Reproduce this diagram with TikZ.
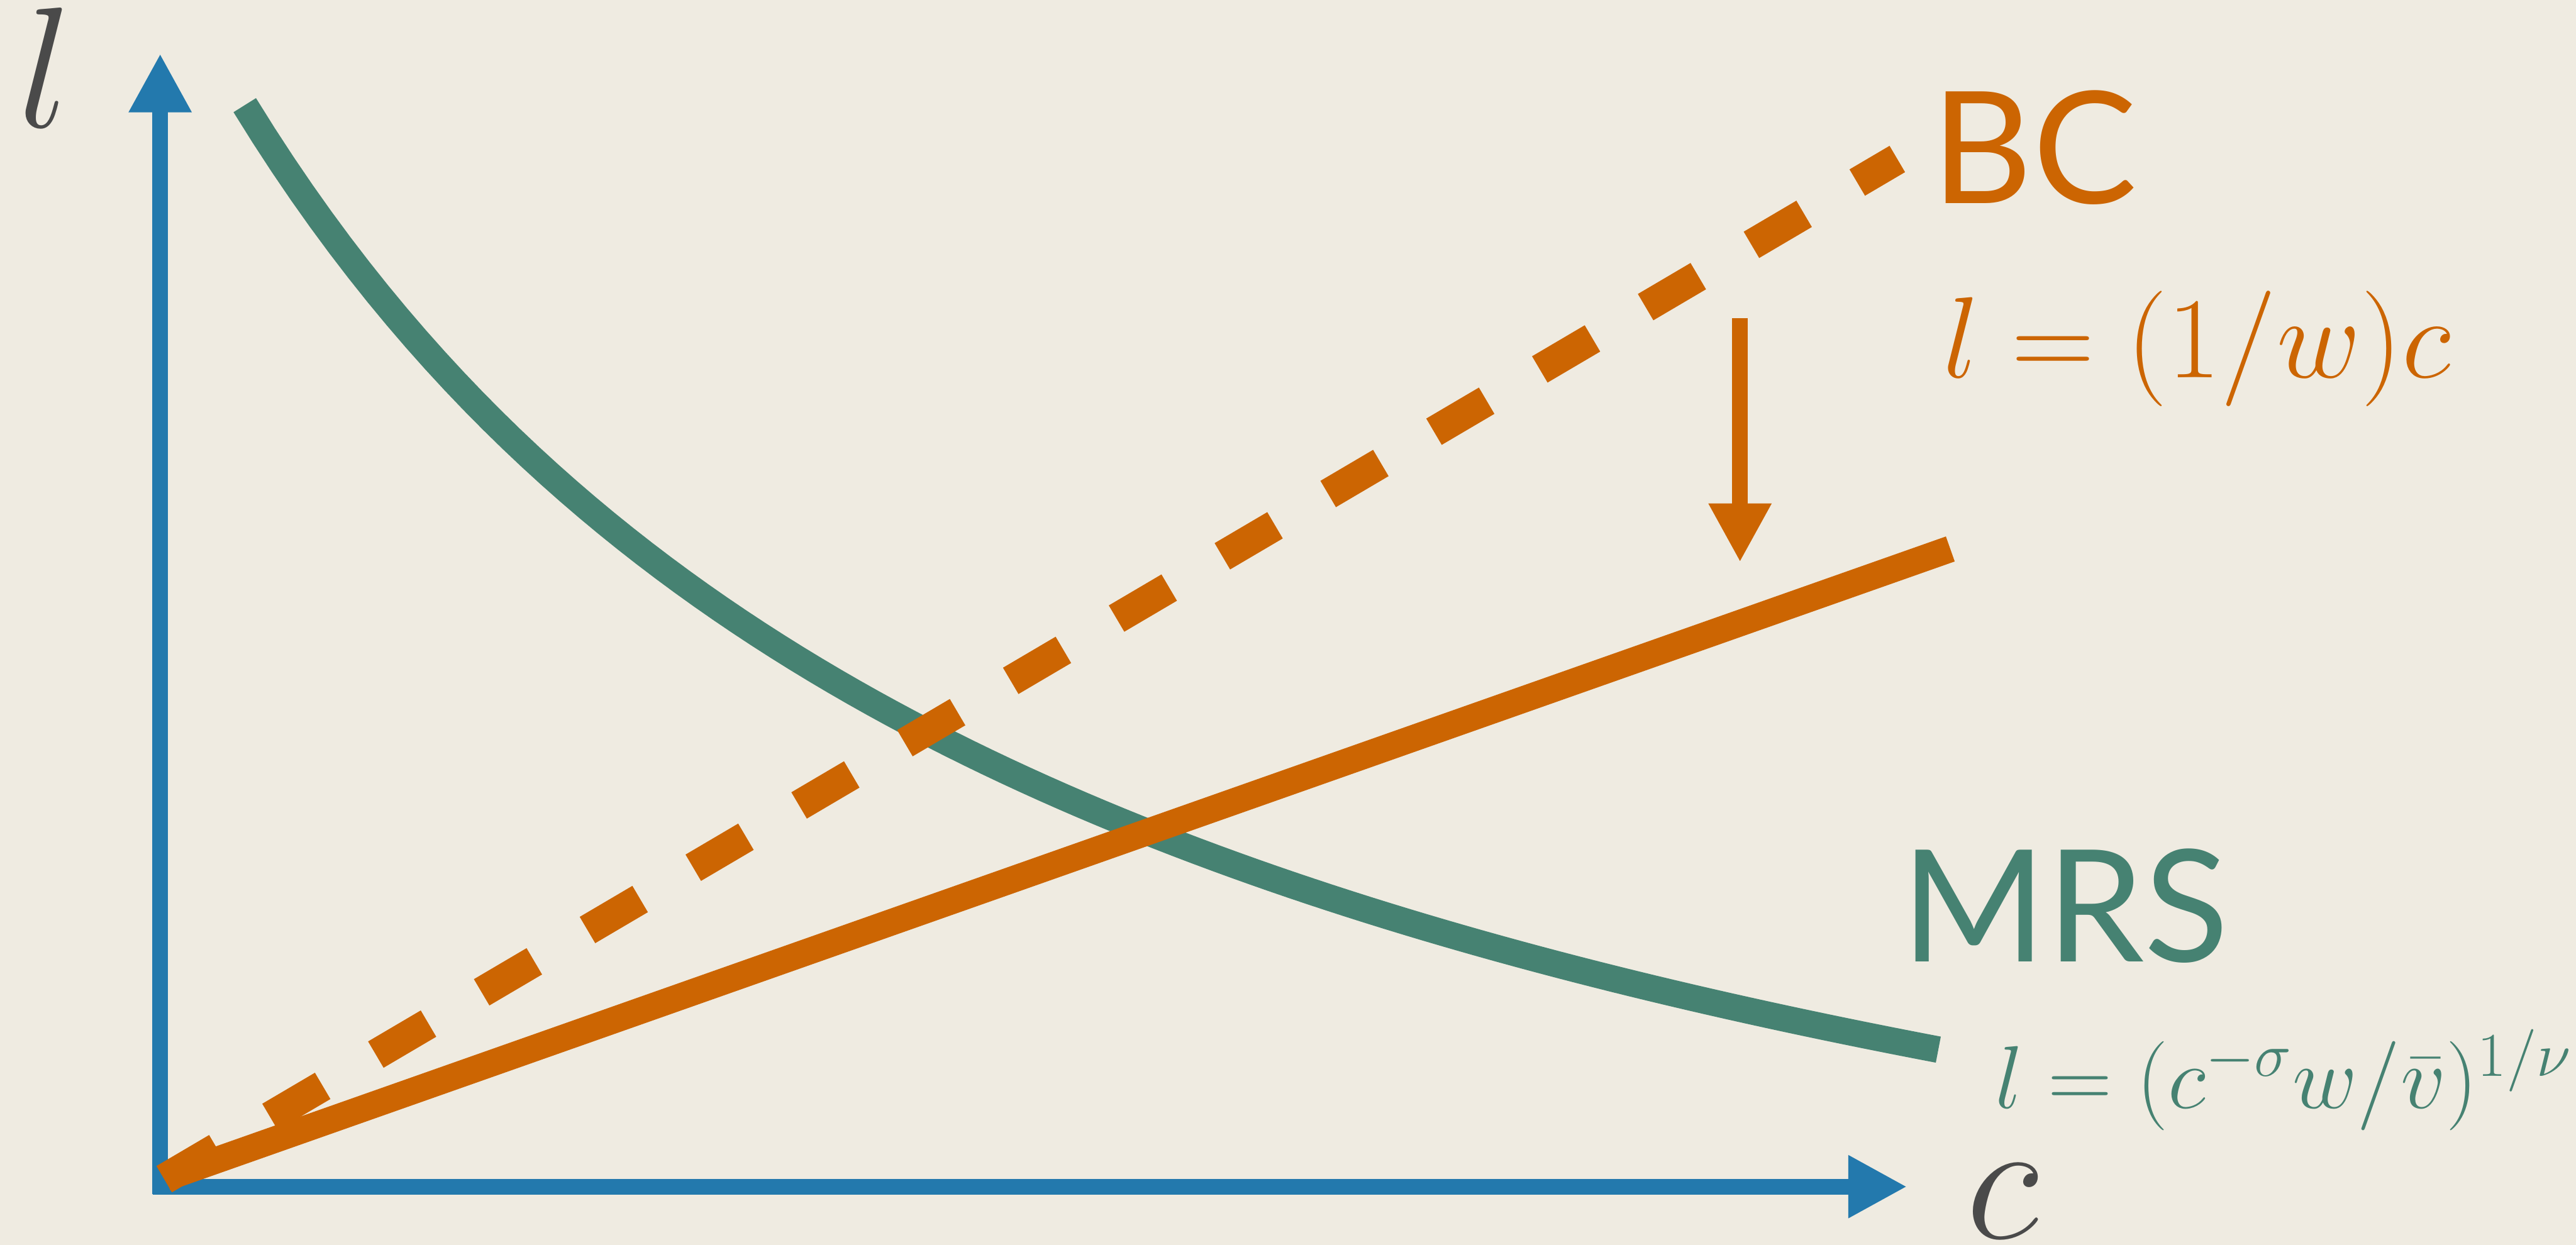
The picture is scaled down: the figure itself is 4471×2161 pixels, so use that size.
\RequirePackage{fix-cm}
\documentclass[tikz,border=0pt]{standalone}
\usepackage[no-math]{fontspec}
\newfontfamily\labelfont{Lato}
\usetikzlibrary{arrows.meta}
\definecolor{bgcream}{HTML}{EFEBE1}
\definecolor{axisblue}{HTML}{2379AD}
\definecolor{bcorange}{HTML}{CC6502}
\definecolor{mrsteal}{HTML}{468272}
\definecolor{labelgray}{HTML}{4A4A4A}
\begin{document}
\begin{tikzpicture}[x=0.01cm, y=-0.01cm,
  axisarrow/.style={draw=axisblue, line width=0.27cm, -{Triangle[length=1.02cm,width=1.02cm]}},
  shiftarrow/.style={draw=bcorange, line width=0.27cm, -{Triangle[length=1.02cm,width=1.02cm]}},
  chalkbc/.style={draw=bcorange, line width=0.46cm},
  chalkmrs/.style={draw=mrsteal, line width=0.46cm},
  dashbc/.style={draw=bcorange, line width=0.53cm, dash pattern=on 1.06cm off 1.07cm},
  axlabel/.style={text=labelgray, font=\fontsize{85}{90}\selectfont, inner sep=0pt, anchor=base west},
  bigname/.style={font=\labelfont\fontsize{77}{82}\selectfont, inner sep=0pt, anchor=base west},
  eqone/.style={text=bcorange, font=\fontsize{57}{62}\selectfont, inner sep=0pt, anchor=base west},
  eqtwo/.style={text=mrsteal, font=\fontsize{44}{50}\selectfont, inner sep=0pt, anchor=base west},
]
\fill[bgcream] (0,0) rectangle (4471,2161);
\useasboundingbox (0,0) rectangle (4471,2161);

% axes
\coordinate (ybot) at (278,2073);
\coordinate (ytop) at (278,93);
\coordinate (xleft) at (265,2060);
\coordinate (xtip) at (3310,2060);
\draw[axisarrow] (ybot) -- (ytop);
\draw[axisarrow] (xleft) -- (xtip);

% MRS curve
\draw[chalkmrs] plot[domain=52:1083, samples=90, variable=\t]
  ({2.851*(97+\t)}, {2.851*(720 - (4676.74/(\t/100+4.833) - 217.7))});

% new budget constraint (solid)
\coordinate (nbcstart) at (288,2045);
\coordinate (nbcend) at (3385,953);
\draw[chalkbc] (nbcstart) -- (nbcend);

% old budget constraint (dashed)
\coordinate (bcstart) at (285,2047);
\coordinate (bcend) at (3293,276);
\draw[dashbc] (bcstart) -- (bcend);

% shift arrow
\coordinate (shifttop) at (3020,552);
\coordinate (shifttip) at (3020,976);
\draw[shiftarrow] (shifttop) -- (shifttip);

% labels
\node[axlabel] (ylab) at (30,221) {$l$};
\node[axlabel] (xlab) at (3412,2150) {$c$};
\node[bigname, text=bcorange] (bcname) at (3352,353) {BC};
\node[eqone] (bceq) at (3372,655) {$l = (1/w)c$};
\node[bigname, text=mrsteal] (mrsname) at (3300,1670) {MRS};
\node[eqtwo] (mrseq) at (3462,1924) {$l = (c^{-\sigma}w/\bar{v})^{1/\nu}$};
\end{tikzpicture}
\end{document}
